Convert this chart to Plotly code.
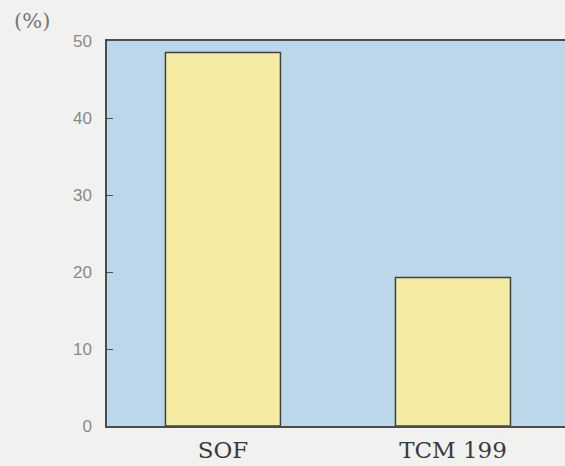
import plotly.graph_objects as go

categories = ["SOF", "TCM 199"]
values = [48.5, 19.3]
y_ticks = [0, 10, 20, 30, 40, 50]

fig = go.Figure()
fig.add_trace(go.Bar(
    x=categories, y=values, width=0.5,
    marker=dict(color="#f3eca2", line=dict(color="#3e4240", width=1.5)),
))

fig.update_layout(
    width=565, height=466,
    margin=dict(l=107, r=0, t=41, b=40),
    paper_bgcolor="#f1f1ef",
    plot_bgcolor="#bcd7ea",
    showlegend=False,
    xaxis=dict(
        range=[-0.504, 1.487],
        showline=True, linecolor="#4a4e50", linewidth=1.5, mirror=True,
        showgrid=False, zeroline=False, ticks="",
        tickfont=dict(family="DejaVu Serif", size=23, color="#3a3a3a"),
        ticklabelstandoff=3,
    ),
    yaxis=dict(
        range=[0, 50], tickvals=y_ticks,
        showline=True, linecolor="#4a4e50", linewidth=1.5,
        showgrid=False, zeroline=False,
        ticks="inside", ticklen=6, tickcolor="#4a4e50",
        tickfont=dict(family="Liberation Sans", size=17, color="#8a8a8a"),
        ticklabelstandoff=10,
    ),
    annotations=[dict(
        text="(%)", x=-(107 - 12) / 458, y=1 + (41 - 21) / 385,
        xref="paper", yref="paper",
        xanchor="left", yanchor="middle", showarrow=False,
        font=dict(family="DejaVu Serif", size=21, color="#777777"),
    )],
)

fig.write_html(
    "out.html",
    config={"displayModeBar": False},
    post_script="document.body.style.margin='0';document.body.style.overflow='hidden';",
)
